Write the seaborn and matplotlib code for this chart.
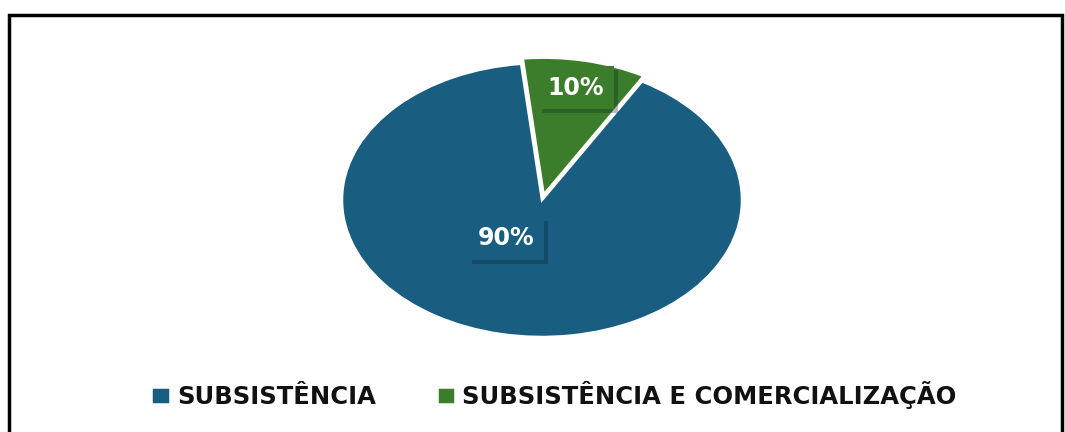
import matplotlib.pyplot as plt
import matplotlib.patheffects as pe
import seaborn as sns
from matplotlib.patches import Rectangle

# Chart data
categories = ["SUBSISTÊNCIA", "SUBSISTÊNCIA E COMERCIALIZAÇÃO"]
shares = [90, 10]
pct_labels = ["90%", "10%"]
colors = ["#195D80", "#3B7D2B"]


def main():
    sns.set_theme(style="white")
    plt.rcParams["font.family"] = ["DejaVu Sans"]

    fig = plt.figure(figsize=(10.65, 4.32), dpi=100)
    # axes placed so the (stretched) pie is an ellipse like the reference
    ax = fig.add_axes([302 / 1065, 0.1565, 480 / 1065, 0.761])

    wedges, _ = ax.pie(
        shares,
        colors=colors,
        startangle=96,
        explode=[0, 0.04],
        wedgeprops={"edgecolor": "white", "linewidth": 1.8},
    )
    ax.set_aspect("auto")
    ax.set_xlim(-1.2, 1.2)
    ax.set_ylim(-1.2, 1.2)
    ax.axis("off")

    # percentage labels in boxes with a soft drop shadow
    label_pos = [(-0.18, -0.28), (0.17, 0.82)]
    for (x, y), txt, col in zip(label_pos, pct_labels, colors):
        t = ax.text(x, y, txt, ha="center", va="center", color="white",
                    fontsize=17, fontweight="bold",
                    bbox={"boxstyle": "square,pad=0.4", "facecolor": col,
                          "edgecolor": "none"})
        t.get_bbox_patch().set_path_effects([
            pe.SimplePatchShadow(offset=(3, -3), shadow_rgbFace="#0b2230",
                                 alpha=0.3),
            pe.Normal(),
        ])

    fig.legend(wedges, categories, loc="center", ncol=2,
               bbox_to_anchor=(554 / 1065, 1 - 395 / 432), frameon=False,
               prop={"size": 17.5, "weight": "bold"}, labelcolor="#111111",
               handlelength=0.75, handleheight=0.75, handletextpad=0.3,
               columnspacing=2.5)

    # outer frame
    fig.patches.append(Rectangle((9 / 1065, -0.05), 1053 / 1065,
                                 1.05 - 15 / 432, transform=fig.transFigure,
                                 fill=False, edgecolor="black", linewidth=2.5))

    plt.savefig("out.png", dpi=100)


if __name__ == "__main__":
    main()
